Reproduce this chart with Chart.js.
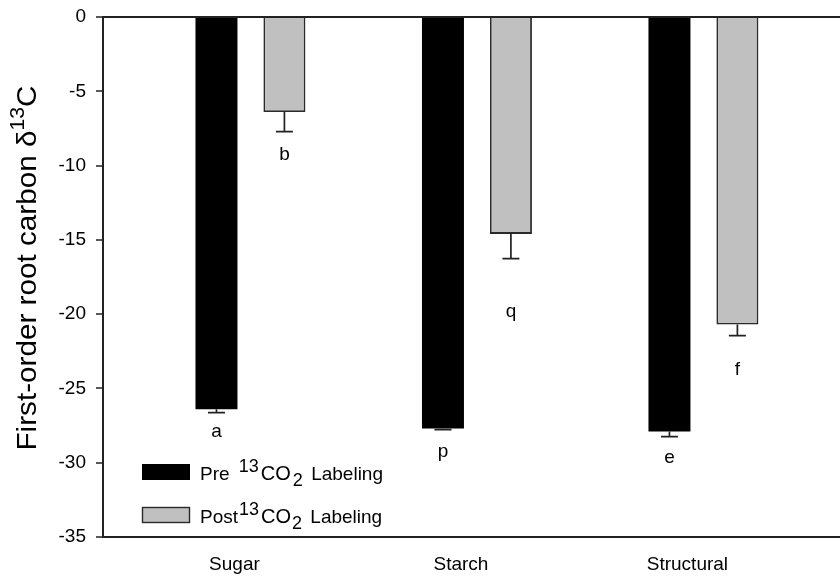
<!DOCTYPE html>
<html><head><meta charset="utf-8">
<script src="https://cdn.jsdelivr.net/npm/chart.js@4"></script>
<style>html,body{margin:0;padding:0;background:#fff}</style>
</head><body>
<canvas id="c" width="840" height="577"></canvas>
<script>
const categories = ['Sugar', 'Starch', 'Structural'];
const categoryX = [1, 2, 3];
const preValues = [-26.4, -27.7, -27.9];
const preErrors = [0.23, 0.07, 0.34];
const postValues = [-6.4, -14.6, -20.7];
const postErrors = [1.32, 1.66, 0.74];
const preLetters = ['a', 'p', 'e'];
const postLetters = ['b', 'q', 'f'];
const preLetterY = [-28.25, -29.6, -30.04];
const postLetterY = [-9.62, -20.19, -24.1];
const yTicks = [0, -5, -10, -15, -20, -25, -30, -35];

const FONT = 'Liberation Sans, Arial, sans-serif';
const errors = [preErrors, postErrors];
const letters = [preLetters, postLetters];
const letterY = [preLetterY, postLetterY];

function drawRich(ctx, segs, x, y, align) {
  let total = 0;
  segs.forEach(s => { ctx.font = s.size + 'px ' + FONT; s.w = ctx.measureText(s.t).width; total += s.w + (s.gap || 0); });
  let cx = align === 'center' ? x - total / 2 : x;
  ctx.textAlign = 'left';
  ctx.textBaseline = 'alphabetic';
  segs.forEach(s => {
    ctx.font = s.size + 'px ' + FONT;
    ctx.fillText(s.t, cx, y + (s.dy || 0));
    cx += s.w + (s.gap || 0);
  });
}

const annot = {
  id: 'annot',
  afterDatasetsDraw(chart) {
    const ctx = chart.ctx;
    const ys = chart.scales.y;
    ctx.save();
    // error bars and letters
    [0, 1].forEach(d => {
      const meta = chart.getDatasetMeta(d);
      const vals = chart.data.datasets[d].data;
      meta.data.forEach((el, i) => {
        const v = vals[i].y;
        const y0 = ys.getPixelForValue(v);
        const y1 = ys.getPixelForValue(v - errors[d][i]);
        ctx.strokeStyle = '#222';
        ctx.lineWidth = 1.7;
        ctx.beginPath();
        ctx.moveTo(el.x, y0); ctx.lineTo(el.x, y1);
        ctx.moveTo(el.x - 8.5, y1); ctx.lineTo(el.x + 8.5, y1);
        ctx.stroke();
        ctx.fillStyle = '#000';
        ctx.font = '19px ' + FONT;
        ctx.textAlign = 'center';
        ctx.textBaseline = 'alphabetic';
        ctx.fillText(letters[d][i], el.x, ys.getPixelForValue(letterY[d][i]));
      });
    });
    // legend
    const ds = chart.data.datasets;
    const rows = [
      { ds: ds[0], by: 464, base: 480, segs: [{t:'Pre ', size:19, gap:4}, {t:'13', size:18, dy:-8, gap:2}, {t:'CO', size:20, gap:2}, {t:'2', size:18, dy:6, gap:3}, {t:' Labeling', size:19}] },
      { ds: ds[1], by: 507, base: 523, segs: [{t:'Post', size:19, gap:1}, {t:'13', size:18, dy:-8, gap:2}, {t:'CO', size:20, gap:1}, {t:'2', size:18, dy:6, gap:3}, {t:' Labeling', size:19}] }
    ];
    rows.forEach(r => {
      ctx.fillStyle = r.ds.backgroundColor;
      ctx.fillRect(142, r.by, 48, 16);
      if (r.ds.borderWidth) {
        ctx.strokeStyle = r.ds.borderColor; ctx.lineWidth = 1.4;
        ctx.strokeRect(142.5, r.by + 0.5, 47, 15);
      }
      ctx.fillStyle = '#000';
      drawRich(ctx, r.segs, 200, r.base, 'left');
    });
    // y title
    ctx.translate(36, 268);
    ctx.rotate(-Math.PI / 2);
    ctx.scale(1.06, 1);
    ctx.fillStyle = '#000';
    drawRich(ctx, [{t:'First-order root carbon δ', size:28}, {t:'13', size:20, dy:-12}, {t:'C', size:28}], 0, 0, 'center');
    ctx.restore();
  }
};

new Chart(document.getElementById('c'), {
  type: 'bar',
  data: {
    datasets: [
      { label: 'Pre 13CO2 Labeling', data: categoryX.map((x, i) => ({ x, y: preValues[i] })), backgroundColor: '#000000', borderWidth: 0 },
      { label: 'Post 13CO2 Labeling', data: categoryX.map((x, i) => ({ x, y: postValues[i] })), backgroundColor: '#c0c0c0', borderColor: '#2a2a2a', borderWidth: 1.8 }
    ]
  },
  options: {
    responsive: false,
    devicePixelRatio: 1,
    animation: false,
    categoryPercentage: 0.6,
    barPercentage: 0.618,
    layout: { padding: { top: 17, left: 0, right: 0, bottom: 0 } },
    plugins: { legend: { display: false }, tooltip: { enabled: false } },
    scales: {
      x: {
        type: 'linear', min: 0.349, max: 3.603, offset: false,
        afterBuildTicks: s => { s.ticks = categoryX.map(v => ({ value: v })); },
        afterFit: s => { s.height = 40; s.paddingLeft = 0; s.paddingRight = 0; },
        grid: { display: false },
        border: { display: true, color: '#222', width: 2 },
        ticks: {
          autoSkip: false, maxRotation: 0, padding: 8, labelOffset: -16,
          color: '#000', font: { family: FONT, size: 19 },
          callback: v => { const i = categoryX.indexOf(v); return i >= 0 ? categories[i] : ''; }
        }
      },
      y: {
        min: -35, max: 0, z: 1,
        afterBuildTicks: s => { s.ticks = yTicks.map(v => ({ value: v })); },
        afterFit: s => { s.width = 103; s.paddingTop = 0; s.paddingBottom = 0; },
        grid: {
          drawOnChartArea: true,
          color: c => (c.tick && c.tick.value === 0) ? '#222' : 'rgba(0,0,0,0)',
          lineWidth: 2,
          tickColor: '#222', tickLength: 7, tickWidth: 1.5
        },
        border: { display: true, color: '#222', width: 2 },
        ticks: { color: '#000', padding: 10, font: { family: FONT, size: 19 } }
      }
    }
  },
  plugins: [annot]
});
</script>
</body></html>
